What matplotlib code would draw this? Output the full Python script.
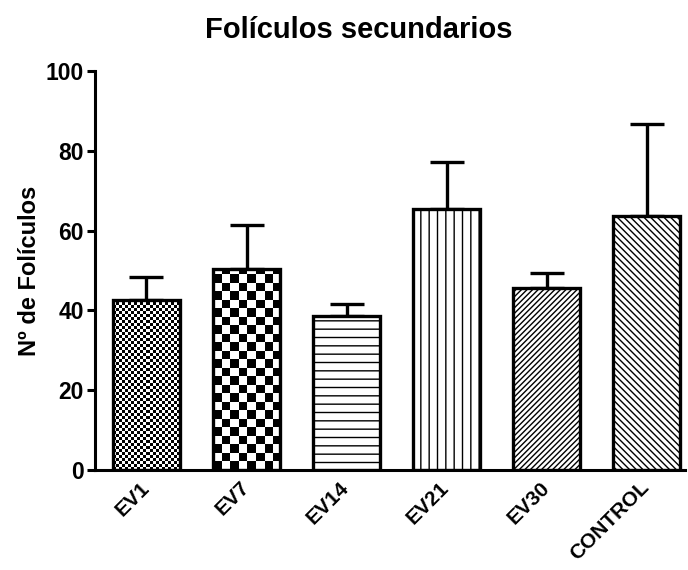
import numpy as np
import matplotlib
matplotlib.use('Agg')
import matplotlib.pyplot as plt
from matplotlib.transforms import ScaledTranslation

# Data
groups = ['EV1', 'EV7', 'EV14', 'EV21', 'EV30', 'CONTROL']
means = [42.5, 50.5, 38.5, 65.3, 45.5, 63.7]
errors = [6.0, 10.8, 3.0, 11.8, 3.9, 23.0]
hatches = [None, None, '--', '||', '//////', '\\\\\\\\\\']
checker_px = [3, 8.5, None, None, None, None]   # checkerboard cell size (pixels)

plt.rcParams['font.family'] = ['Liberation Sans', 'DejaVu Sans']
plt.rcParams['font.weight'] = 'bold'
plt.rcParams['hatch.linewidth'] = 1.0
plt.rcParams['hatch.color'] = 'black'

fig = plt.figure(figsize=(6.88, 5.70), dpi=100)
ax = fig.add_axes([0.138, 0.1754, 0.858, 0.70])

x = np.arange(len(groups))
width = 0.67
# filled / hatched bodies
bars = ax.bar(x, means, width=width, color='white', edgecolor='black',
              linewidth=0, zorder=2)
for b, h in zip(bars, hatches):
    if h:
        b.set_hatch(h)

ax.set_xlim(-0.515, 5.385)
ax.set_ylim(0, 100)

# checkerboard fills for EV1 and EV7
px_per_x = 100.0
px_per_y = 399.0 / 100
for b, cell in zip(bars, checker_px):
    if cell is None:
        continue
    x0, w, hgt = b.get_x(), b.get_width(), b.get_height()
    ncols = int(np.ceil(w * px_per_x / cell))
    nrows = int(np.ceil(hgt * px_per_y / cell))
    board = (np.add.outer(np.arange(nrows), np.arange(ncols)) % 2).astype(float)
    im = ax.imshow(board, cmap='gray', extent=(x0, x0 + ncols * cell / px_per_x,
                   0, nrows * cell / px_per_y), origin='lower',
                   interpolation='nearest', aspect='auto', zorder=2.5)
    im.set_clip_path(b)

# outlines on top
ax.bar(x, means, width=width, fill=False, edgecolor='black',
       linewidth=2.4, zorder=3)

# upper error bars only
ax.errorbar(x, means, yerr=[np.zeros(len(errors)), errors], fmt='none',
            ecolor='black', elinewidth=2.4, capsize=12, capthick=2.4, zorder=1.5)

ax.set_xlim(-0.515, 5.385)
ax.set_ylim(0, 100)
ax.spines['top'].set_visible(False)
ax.spines['right'].set_visible(False)
ax.spines['left'].set_linewidth(2.2)
ax.spines['bottom'].set_linewidth(2.2)
ax.set_yticks([0, 20, 40, 60, 80, 100])
ax.tick_params(axis='y', width=2.2, length=6, labelsize=16.5, pad=2)
ax.tick_params(axis='x', length=0, labelsize=15, pad=5)
ax.set_xticks(x)
ax.set_xticklabels(groups, rotation=45, ha='right', rotation_mode='anchor',
                   fontweight='bold')
shift = ScaledTranslation(-7 / 100, -1 / 100, fig.dpi_scale_trans)
for lab in ax.get_xticklabels():
    lab.set_transform(lab.get_transform() + shift)
for lab in ax.get_yticklabels():
    lab.set_fontweight('bold')

ax.set_ylabel('Nº de Folículos', fontsize=17, fontweight='bold', labelpad=3)
fig.suptitle('Folículos secundarios', fontsize=21, fontweight='bold',
             x=0.522, y=0.972)

fig.savefig('out.png', dpi=100)
